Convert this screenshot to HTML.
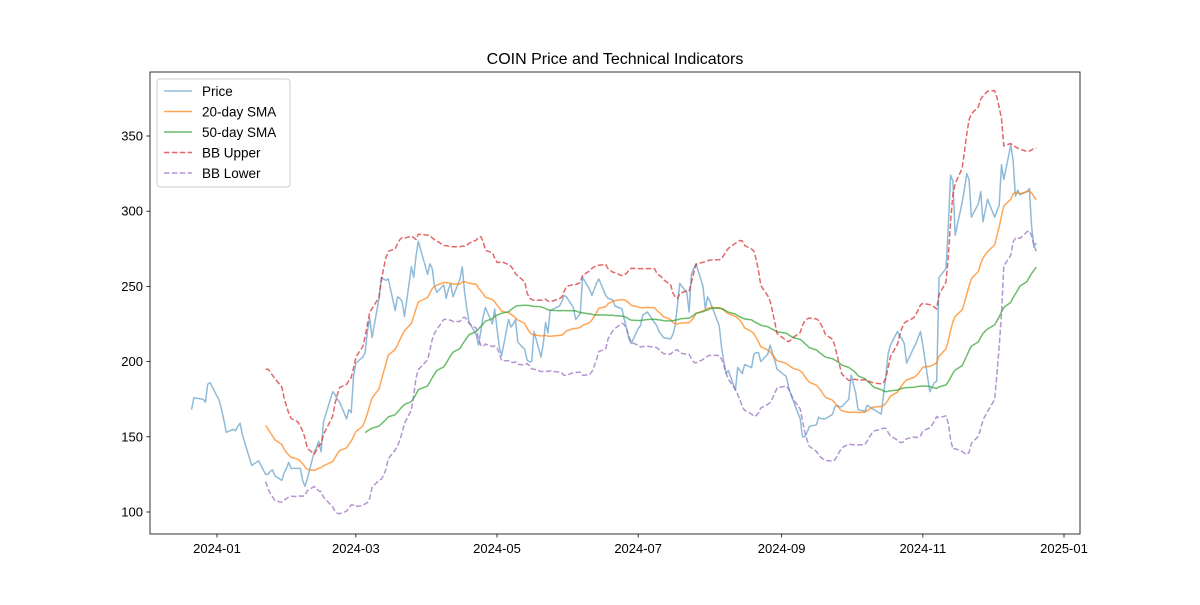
<!DOCTYPE html>
<html><head><meta charset="utf-8">
<style>
body{margin:0;background:#fff;}
svg text{font-family:"Liberation Sans","DejaVu Sans",sans-serif;}
</style></head>
<body>
<svg id="chart" width="1200" height="600" xmlns="http://www.w3.org/2000/svg">
<rect width="1200" height="600" fill="#fff"/>
<text x="615" y="64" font-size="16" text-anchor="middle">COIN Price and Technical Indicators</text>
<g id="plot"></g>
<rect x="150" y="72" width="930" height="462" fill="none" stroke="#000" stroke-width="0.8"/>
<g id="axes"></g>
<g>
<rect x="157" y="79" width="133" height="108" rx="3" fill="#fff" fill-opacity="0.8" stroke="#ccc" stroke-width="1"/>
<g><line x1="164" y1="91" x2="192" y2="91" stroke="#1f77b4" stroke-opacity="0.5" stroke-width="1.5"/><text x="202" y="96" font-size="13.5">Price</text></g>
<g><line x1="164" y1="111.5" x2="192" y2="111.5" stroke="#ff7f0e" stroke-opacity="0.7" stroke-width="1.5"/><text x="202" y="116.5" font-size="13.5">20-day SMA</text></g>
<g><line x1="164" y1="132" x2="192" y2="132" stroke="#2ca02c" stroke-opacity="0.7" stroke-width="1.5"/><text x="202" y="137" font-size="13.5">50-day SMA</text></g>
<g><line x1="164" y1="152.5" x2="192" y2="152.5" stroke="#d62728" stroke-opacity="0.7" stroke-width="1.5" stroke-dasharray="5.5,2.4"/><text x="202" y="157.5" font-size="13.5">BB Upper</text></g>
<g><line x1="164" y1="173" x2="192" y2="173" stroke="#9467bd" stroke-opacity="0.7" stroke-width="1.5" stroke-dasharray="5.5,2.4"/><text x="202" y="178" font-size="13.5">BB Lower</text></g>
</g>
</svg>
<script>
const prices = [168,176,175,173,185,186,174,168,161,153,155,154,157,159,151,131,132,133,134,125,125,127,128,124,121,126,129,133,129,129,129,121,117,122,140,143,147,140,160,180,178,175,173,162,168,166,190,199,203,206,220,229,216,242,256,255,254,255,234,243,242,240,230,263,256,270,280,258,265,262,250,246,251,242,248,252,243,255,263,246,235,226,218,211,220,230,236,225,235,222,210,204,228,223,225,228,213,208,201,200,200,220,203,212,226,219,234,237,240,244,243,236,228,230,232,256,248,244,248,252,255,244,242,241,237,235,228,222,215,212,222,224,231,233,226,224,220,218,216,215,218,224,238,252,246,233,258,262,265,250,235,243,240,236,224,210,200,192,194,181,196,194,192,198,196,205,206,206,200,205,211,206,201,195,190,183,178,174,162,150,150,153,157,158,163,162,162,162,165,170,171,170,170,175,191,185,179,168,167,171,170,169,168,165,178,190,205,211,220,217,215,212,199,209,212,216,220,211,180,183,186,187,256,262,290,324,320,284,306,315,325,321,296,305,313,293,308,296,300,304,331,321,344,334,310,314,311,313,315,290,276,279];
const startDate = "2023-12-21";
const holidays = ["2023-12-25","2024-01-01","2024-01-15","2024-02-19","2024-03-29","2024-05-27","2024-06-19","2024-07-04","2024-09-02","2024-11-28"];
const yTicks = [100,150,200,250,300,350];
const xTickLabels = ["2024-01","2024-03","2024-05","2024-07","2024-09","2024-11","2025-01"];

const DAY=86400000;
const x0=Date.UTC(2024,0,1), pxPerDay=847/366;
function xs(t){return 217+(t-x0)/DAY*pxPerDay;}
function ys(v){return 512-(v-100)*1.504;}
const dates=[];
let d=new Date(startDate+"T00:00:00Z");
while(dates.length<prices.length){
  const wd=d.getUTCDay(), iso=d.toISOString().slice(0,10);
  if(wd!==0&&wd!==6&&holidays.indexOf(iso)<0) dates.push(d.getTime());
  d=new Date(d.getTime()+DAY);
}
function rolling(n,fn){return prices.map((_,i)=>{if(i<n-1)return null;const w=prices.slice(i-n+1,i+1);return fn(w);});}
const mean=w=>w.reduce((a,b)=>a+b,0)/w.length;
const std=w=>{const m=mean(w);return Math.sqrt(w.reduce((a,b)=>a+(b-m)*(b-m),0)/(w.length-1));};
const sma20=rolling(20,mean), sma50=rolling(50,mean), sd20=rolling(20,std);
const bbU=sma20.map((m,i)=>m==null?null:m+2*sd20[i]);
const bbL=sma20.map((m,i)=>m==null?null:m-2*sd20[i]);
const NS="http://www.w3.org/2000/svg";
const plot=document.getElementById('plot'), axes=document.getElementById('axes');
function path(vals,color,op,dash,name){
  let s="";vals.forEach((v,i)=>{if(v==null)return;s+=(s?"L":"M")+xs(dates[i]).toFixed(1)+","+ys(v).toFixed(1);});
  const p=document.createElementNS(NS,'path');
  p.setAttribute('d',s);p.setAttribute('fill','none');p.setAttribute('stroke',color);
  p.setAttribute('stroke-opacity',op);p.setAttribute('stroke-width','1.5');p.setAttribute('stroke-linejoin','round');
  if(dash)p.setAttribute('stroke-dasharray','5.5,2.4');
  
  
  plot.appendChild(p);
}
path(prices,'#1f77b4',0.5,false,'price-line');
path(sma20,'#ff7f0e',0.7,false,'sma20-line');
path(sma50,'#2ca02c',0.7,false,'sma50-line');
path(bbU,'#d62728',0.7,true,'bb-upper-line');
path(bbL,'#9467bd',0.7,true,'bb-lower-line');
yTicks.forEach(v=>{
  const y=ys(v);
  const l=document.createElementNS(NS,'line');
  l.setAttribute('x1',150);l.setAttribute('x2',146.5);l.setAttribute('y1',y);l.setAttribute('y2',y);l.setAttribute('stroke','#000');l.setAttribute('stroke-width','0.8');
  
  
  axes.appendChild(l);
  const t=document.createElementNS(NS,'text');
  t.setAttribute('x',143);t.setAttribute('y',y+4.5);t.setAttribute('font-size','13');t.setAttribute('text-anchor','end');t.textContent=v;
  
  
  axes.appendChild(t);
});
xTickLabels.forEach(lbl=>{
  const [yy,mm]=lbl.split('-').map(Number);
  const x=xs(Date.UTC(yy,mm-1,1));
  const l=document.createElementNS(NS,'line');
  l.setAttribute('x1',x);l.setAttribute('x2',x);l.setAttribute('y1',534);l.setAttribute('y2',537.5);l.setAttribute('stroke','#000');l.setAttribute('stroke-width','0.8');
  
  
  axes.appendChild(l);
  const t=document.createElementNS(NS,'text');
  t.setAttribute('x',x);t.setAttribute('y',553);t.setAttribute('font-size','13');t.setAttribute('text-anchor','middle');t.textContent=lbl;
  
  
  axes.appendChild(t);
});
</script>
</body></html>
